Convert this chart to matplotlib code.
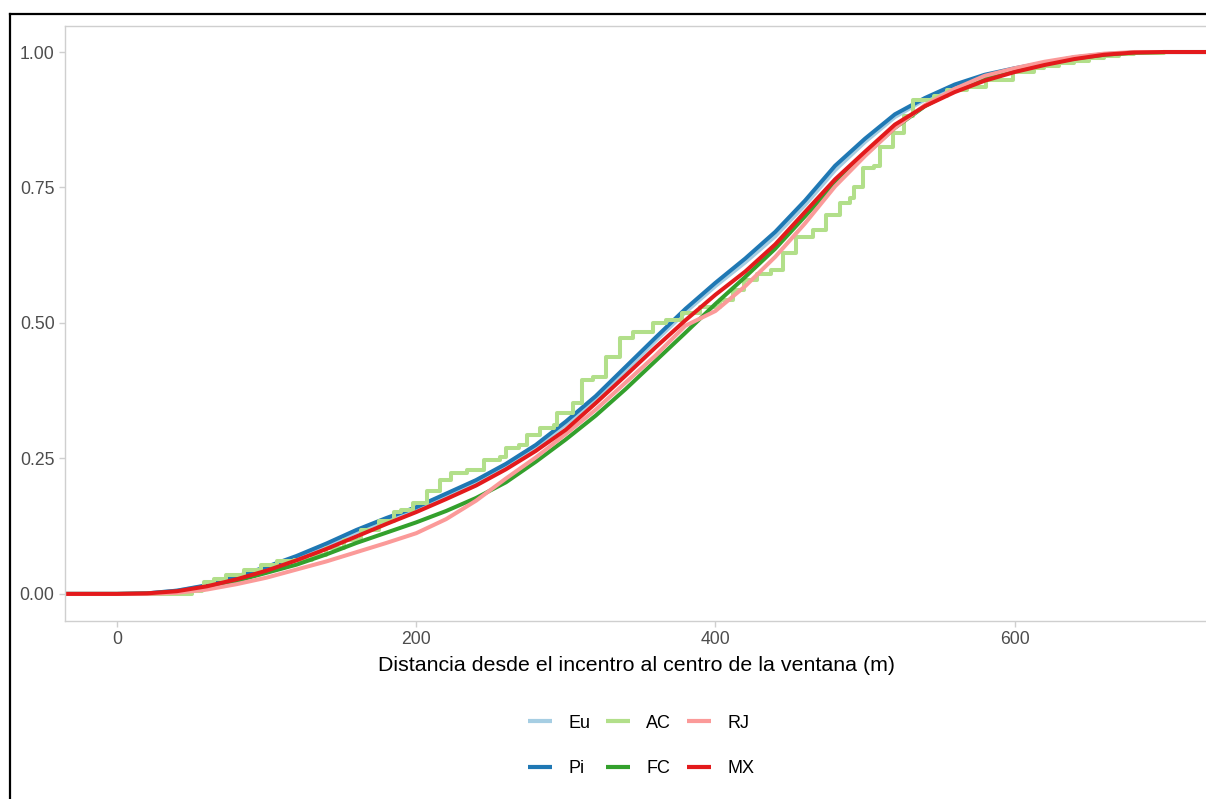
import numpy as np
import matplotlib
matplotlib.use("Agg")
import matplotlib.pyplot as plt
from matplotlib.lines import Line2D

plt.rcParams['font.family'] = ['Liberation Sans', 'DejaVu Sans']

# distancias (m) comunes para las curvas suaves
dist = [-40, 0, 20, 40, 60, 80, 100, 120, 140, 160, 180, 200, 220, 240, 260, 280,
        300, 320, 340, 360, 380, 400, 420, 440, 460, 480, 500, 520, 540, 560, 580,
        600, 620, 640, 660, 680, 700, 740]

eu = [0, 0, 0.001, 0.006, 0.015, 0.030, 0.048, 0.067, 0.089, 0.114, 0.136, 0.157,
      0.181, 0.206, 0.236, 0.270, 0.313, 0.360, 0.412, 0.467, 0.520, 0.568, 0.612,
      0.660, 0.718, 0.782, 0.834, 0.880, 0.912, 0.938, 0.956, 0.969, 0.980, 0.990,
      0.996, 0.999, 1.0, 1.0]
pi = [0, 0, 0.001, 0.006, 0.016, 0.032, 0.050, 0.070, 0.093, 0.118, 0.140, 0.160,
      0.185, 0.210, 0.240, 0.275, 0.318, 0.365, 0.419, 0.473, 0.526, 0.574, 0.619,
      0.668, 0.726, 0.790, 0.840, 0.885, 0.915, 0.940, 0.958, 0.970, 0.980, 0.990,
      0.996, 0.999, 1.0, 1.0]
fc = [0, 0, 0.0005, 0.004, 0.012, 0.024, 0.039, 0.054, 0.073, 0.094, 0.113, 0.132,
      0.153, 0.177, 0.206, 0.244, 0.285, 0.329, 0.378, 0.430, 0.482, 0.535, 0.585,
      0.637, 0.697, 0.758, 0.810, 0.860, 0.900, 0.930, 0.952, 0.966, 0.978, 0.988,
      0.995, 0.999, 1.0, 1.0]
rj = [0, 0, 0, 0.002, 0.008, 0.018, 0.030, 0.045, 0.060, 0.077, 0.094, 0.112,
      0.138, 0.172, 0.213, 0.252, 0.295, 0.340, 0.390, 0.440, 0.495, 0.522, 0.568,
      0.622, 0.684, 0.752, 0.808, 0.860, 0.902, 0.932, 0.956, 0.970, 0.982, 0.991,
      0.997, 1.0, 1.0, 1.0]
mx = [0, 0, 0.001, 0.005, 0.014, 0.027, 0.043, 0.062, 0.083, 0.106, 0.129, 0.151,
      0.175, 0.200, 0.230, 0.264, 0.303, 0.352, 0.403, 0.455, 0.505, 0.552, 0.595,
      0.645, 0.705, 0.765, 0.816, 0.866, 0.900, 0.926, 0.947, 0.963, 0.976, 0.987,
      0.995, 0.999, 1.0, 1.0]

# AC: curva escalonada
ac_x = [-40, 40, 50, 57, 58, 65, 73, 85, 96, 107, 118, 130, 140, 152, 163, 175, 185,
        190, 198, 207, 216, 223, 234, 241, 245, 256, 260, 269, 274, 283, 292, 294,
        305, 311, 318, 327, 336, 345, 358, 367, 378, 390, 403, 412, 419, 428, 437,
        445, 454, 465, 474, 483, 490, 493, 499, 506, 510, 519, 526, 532, 546, 555,
        568, 581, 599, 613, 620, 630, 640, 650, 660, 670, 680, 700, 740]
ac_y = [0, 0, 0.005, 0.008, 0.022, 0.028, 0.035, 0.045, 0.054, 0.060, 0.063, 0.072,
        0.084, 0.100, 0.118, 0.135, 0.152, 0.155, 0.167, 0.189, 0.210, 0.223, 0.229,
        0.229, 0.247, 0.253, 0.269, 0.275, 0.293, 0.306, 0.312, 0.333, 0.352, 0.395,
        0.401, 0.438, 0.472, 0.484, 0.499, 0.506, 0.518, 0.530, 0.542, 0.560, 0.579,
        0.590, 0.598, 0.629, 0.659, 0.672, 0.699, 0.721, 0.730, 0.751, 0.786, 0.790,
        0.825, 0.850, 0.881, 0.911, 0.918, 0.930, 0.935, 0.948, 0.964, 0.970, 0.974,
        0.979, 0.984, 0.989, 0.993, 0.996, 0.998, 1.0, 1.0]

labels = ['Eu', 'Pi', 'AC', 'FC', 'RJ', 'MX']
colors = ['#a6cee3', '#1f78b4', '#b2df8a', '#33a02c', '#fb9a99', '#e31a1c']

fig = plt.figure(figsize=(12.06, 7.99), dpi=100)
ax = fig.add_axes([65 / 1206, 1 - 621 / 799, 1 - 65 / 1206, (621 - 26) / 799])

lw = 2.9
ax.plot(dist, eu, color=colors[0], lw=lw, label=labels[0])
ax.plot(dist, pi, color=colors[1], lw=lw, label=labels[1])
ax.plot(ac_x, ac_y, color=colors[2], lw=lw, label=labels[2], drawstyle='steps-post')
ax.plot(dist, fc, color=colors[3], lw=lw, label=labels[3])
ax.plot(dist, rj, color=colors[4], lw=lw, label=labels[4])
ax.plot(dist, mx, color=colors[5], lw=lw, label=labels[5])

ax.set_xlim(-34.8, 728)
ax.set_ylim(-0.05, 1.048)
ax.set_xticks([0, 200, 400, 600])
ax.set_yticks([0, 0.25, 0.5, 0.75, 1.0])
ax.set_yticklabels(['0.00', '0.25', '0.50', '0.75', '1.00'])

for s in ['left', 'top', 'bottom']:
    ax.spines[s].set_color('#cfcfcf')
    ax.spines[s].set_linewidth(1.0)
ax.spines['right'].set_visible(False)
ax.tick_params(colors='#cfcfcf', labelcolor='#4d4d4d', labelsize=12.7, length=4, width=1)

ax.set_xlabel('Distancia desde el incentro al centro de la ventana (m)', fontsize=15.4, color='black')
ax.xaxis.set_label_coords((637 - 65) / (1206 - 65), -0.058)

leg = fig.legend(loc='center', bbox_to_anchor=(641 / 1206, 1 - 746 / 799), ncol=3,
                 frameon=False, fontsize=13, handlelength=1.35, handletextpad=0.9,
                 columnspacing=0.85, labelspacing=1.6)
for h in leg.legend_handles:
    h.set_linewidth(3)
    h.set_solid_capstyle('butt')

# marco negro exterior
fig.add_artist(Line2D([10 / 1206, 10 / 1206], [0, 1 - 14 / 799], color='black', lw=1.6,
                      transform=fig.transFigure))
fig.add_artist(Line2D([10 / 1206, 1], [1 - 14 / 799, 1 - 14 / 799], color='black', lw=1.6,
                      transform=fig.transFigure))

fig.savefig('out.png', dpi=100)
